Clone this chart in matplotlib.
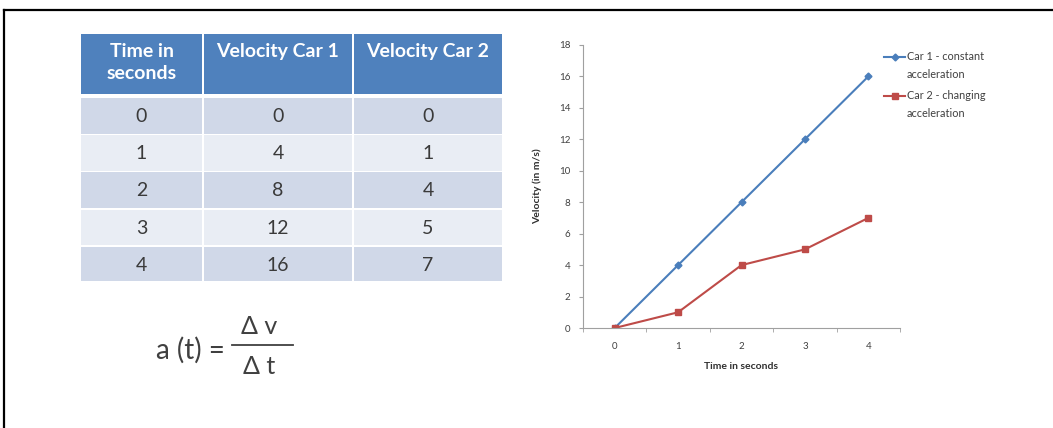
import matplotlib.pyplot as plt
from matplotlib.patches import Rectangle
from matplotlib.lines import Line2D

plt.rcParams['font.family'] = ['Lato', 'DejaVu Sans']

# data
time_s = [0, 1, 2, 3, 4]
car1 = [0, 4, 8, 12, 16]
car2 = [0, 1, 4, 5, 7]
headers = ['Time in\nseconds', 'Velocity Car 1', 'Velocity Car 2']
yticks = [0, 2, 4, 6, 8, 10, 12, 14, 16, 18]
series_labels = ['Car 1 - constant\nacceleration', 'Car 2 - changing\nacceleration']

W, H = 1053, 428
fig = plt.figure(figsize=(W / 100, H / 100), dpi=100)

def fx(px):
    return px / W

def fy(py):
    return 1 - py / H

# frame around the slide (top and left only visible)
fig.add_artist(Line2D([fx(4), 1], [fy(10), fy(10)], color='black', lw=1.6))
fig.add_artist(Line2D([fx(4), fx(4)], [fy(10), 0], color='black', lw=1.6))

# ---- table ----
tab = fig.add_axes([fx(80), fy(281), fx(423), (281 - 34) / H])
tab.set_xlim(0, 423)
tab.set_ylim(247, 0)
tab.axis('off')
col_x = [0, 123, 273, 423]
hdr_h = 61
row_h = 37.2
gap = 1.5
for j, h in enumerate(headers):
    tab.add_patch(Rectangle((col_x[j] + gap / 2, 0), col_x[j + 1] - col_x[j] - gap, hdr_h - gap,
                            facecolor='#4F81BD', edgecolor='none'))
    tab.text((col_x[j] + col_x[j + 1]) / 2, 9, h, ha='center', va='top',
             color='white', fontsize=14, fontweight='bold', linespacing=1.35)
rows = list(zip(time_s, car1, car2))
for i, r in enumerate(rows):
    y0 = hdr_h + 3 + i * row_h
    fc = '#D0D8E8' if i % 2 == 0 else '#E9EDF4'
    for j, v in enumerate(r):
        tab.add_patch(Rectangle((col_x[j] + gap / 2, y0), col_x[j + 1] - col_x[j] - gap, row_h - gap,
                                facecolor=fc, edgecolor='none'))
        tab.text((col_x[j] + col_x[j + 1]) / 2, y0 + row_h / 2, str(v), ha='center', va='center',
                 color='#3a3a3a', fontsize=14)

# ---- formula ----
fig.text(fx(225), fy(350), 'a (t) =', ha='right', va='center', fontsize=20, color='#404040')
fig.text(fx(259), fy(327), '\u0394 v', ha='center', va='center', fontsize=18, color='#404040')
fig.text(fx(259), fy(367), '\u0394 t', ha='center', va='center', fontsize=18, color='#404040')
fig.add_artist(Line2D([fx(232), fx(293)], [fy(345), fy(345)], color='#404040', lw=1.3))

# ---- chart ----
ax = fig.add_axes([fx(583), fy(328), fx(900 - 583), (328 - 45) / H])
styles = [dict(color='#4A7EBB', marker='D', ms=3.5), dict(color='#BE4B48', marker='s', ms=5)]
for ys, st in zip([car1, car2], styles):
    ax.plot(time_s, ys, lw=1.5, **st)
ax.set_xlim(-0.5, 4.5)
ax.set_ylim(0, 18)
ax.set_yticks(yticks)
ax.set_xticks(time_s)
ax.set_xticks([-0.5, 0.5, 1.5, 2.5, 3.5, 4.5], minor=True)
ax.tick_params(axis='x', which='major', length=0, pad=10)
ax.tick_params(axis='x', which='minor', length=3, color='#a0a0a0', direction='out')
ax.tick_params(axis='y', length=3, color='#a0a0a0', pad=6)
ax.tick_params(labelsize=7, labelcolor='#404040')
for s in ['top', 'right']:
    ax.spines[s].set_visible(False)
ax.spines['left'].set_color('#a0a0a0')
ax.spines['bottom'].set_color('#a0a0a0')
ax.set_ylabel('Velocity (in m/s)', fontsize=7.5, fontweight='bold', color='#303030', labelpad=12)
ax.set_xlabel('Time in seconds', fontsize=7.5, fontweight='bold', color='#303030', labelpad=8)

# legend, handle aligned with the first line of each label
for k, (lab, st) in enumerate(zip(series_labels, styles)):
    yl = 57 + k * 39
    fig.add_artist(Line2D([fx(884), fx(905)], [fy(yl), fy(yl)], lw=1.5, color=st['color']))
    fig.add_artist(Line2D([fx(894.5)], [fy(yl)], lw=0, color=st['color'], marker=st['marker'], ms=st['ms']))
    fig.text(fx(907), fy(yl - 6), lab, ha='left', va='top', fontsize=7.8, color='#404040', linespacing=1.75)

fig.savefig('out.png', dpi=100, facecolor='white')
